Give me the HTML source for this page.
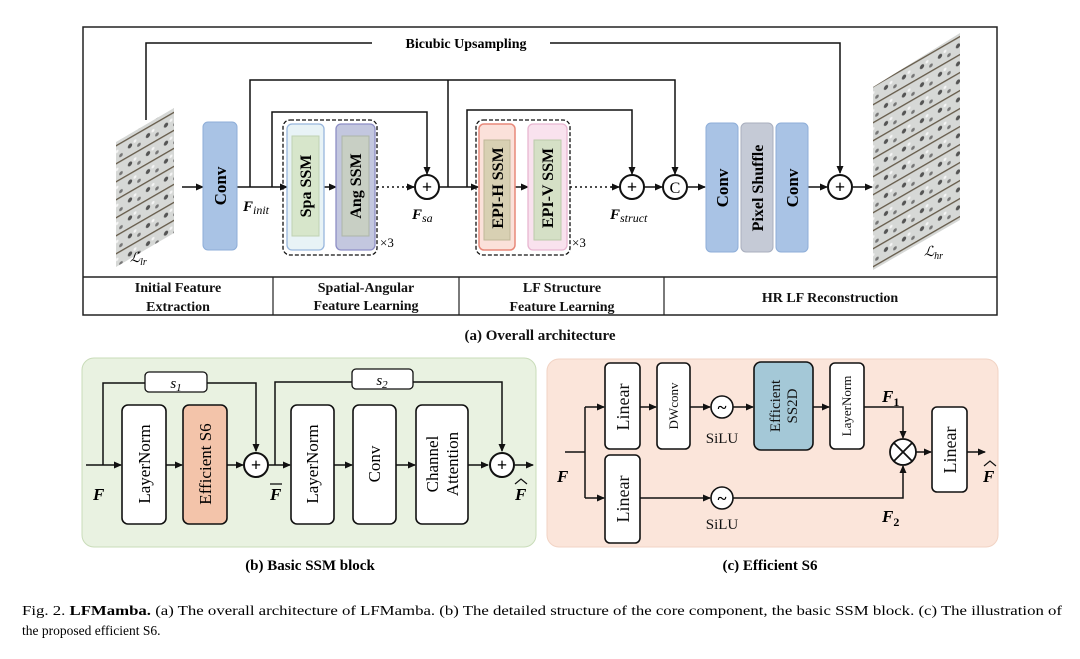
<!DOCTYPE html>
<html><head><meta charset="utf-8"><style>
html,body{margin:0;padding:0;background:#fff;}
svg{display:block;}
text{font-family:"Liberation Serif",serif;}
</style></head><body>
<svg width="1080" height="659" viewBox="0 0 1080 659" xmlns="http://www.w3.org/2000/svg">
<defs>
<marker id="a" markerWidth="8" markerHeight="8" refX="7" refY="4" orient="auto" markerUnits="userSpaceOnUse">
<path d="M0,0.5 L8,4 L0,7.5 z" fill="#111"/></marker>
<pattern id="lf" width="18" height="18" patternUnits="userSpaceOnUse" patternTransform="skewY(-30)">
<rect width="18" height="18" fill="#d6d8d6"/>
<circle cx="4" cy="5" r="2.2" fill="#555"/><circle cx="13" cy="9" r="1.8" fill="#777"/>
<rect x="0" y="14" width="18" height="1.6" fill="#6a6050"/>
<circle cx="9" cy="3" r="1.5" fill="#f4f4f4"/>
</pattern>
</defs>

<!-- (a) frame -->
<rect x="83" y="27" width="914" height="288" fill="#fff" stroke="#222" stroke-width="1.5"/>
<line x1="83" y1="277" x2="997" y2="277" stroke="#222" stroke-width="1.5"/>
<line x1="273" y1="277" x2="273" y2="315" stroke="#222" stroke-width="1.2"/>
<line x1="459" y1="277" x2="459" y2="315" stroke="#222" stroke-width="1.2"/>
<line x1="664" y1="277" x2="664" y2="315" stroke="#222" stroke-width="1.2"/>
<g font-weight="bold" font-size="14" text-anchor="middle" fill="#111">
<text x="178" y="292">Initial Feature</text><text x="178" y="311">Extraction</text>
<text x="366" y="292">Spatial-Angular</text><text x="366" y="310">Feature Learning</text>
<text x="562" y="292">LF Structure</text><text x="562" y="311">Feature Learning</text>
<text x="830" y="302">HR LF Reconstruction</text>
<text x="540" y="340" font-size="15">(a) Overall architecture</text>
</g>

<!-- images -->
<polygon points="116,142 174,108 174,233 116,267" fill="url(#lf)"/>
<polygon points="873,87 960,33 960,220 873,270" fill="url(#lf)"/>
<text x="130" y="262" font-size="14" font-style="italic">ℒ<tspan font-size="10" dy="3">lr</tspan></text>
<text x="924" y="256" font-size="14" font-style="italic">ℒ<tspan font-size="10" dy="3">hr</tspan></text>

<g stroke="#111" stroke-width="1.5" fill="none">
<polyline points="146,120 146,43 372,43"/>
<polyline points="550,43 840,43 840,173" marker-end="url(#a)"/>
<line x1="182" y1="187" x2="203" y2="187" marker-end="url(#a)"/>
<line x1="236" y1="187" x2="287" y2="187" marker-end="url(#a)"/>
<polyline points="250,187 250,80 675,80 675,174" marker-end="url(#a)"/>
<polyline points="272,187 272,112 427,112 427,174" marker-end="url(#a)"/>
<line x1="324" y1="187" x2="336" y2="187" marker-end="url(#a)"/>
<line x1="377" y1="187" x2="414" y2="187" stroke-dasharray="2,3"/>
<line x1="406" y1="187" x2="414" y2="187" marker-end="url(#a)"/>
<line x1="439" y1="187" x2="478" y2="187" marker-end="url(#a)"/>
<line x1="448" y1="80" x2="448" y2="187"/>
<polyline points="467,187 467,110 632,110 632,174" marker-end="url(#a)"/>
<line x1="515" y1="187" x2="528" y2="187" marker-end="url(#a)"/>
<line x1="570" y1="187" x2="619" y2="187" stroke-dasharray="2,3"/>
<line x1="611" y1="187" x2="619" y2="187" marker-end="url(#a)"/>
<line x1="644" y1="187" x2="662" y2="187" marker-end="url(#a)"/>
<line x1="688" y1="187" x2="705" y2="187" marker-end="url(#a)"/>
<line x1="808" y1="187" x2="827" y2="187" marker-end="url(#a)"/>
<line x1="853" y1="187" x2="872" y2="187" marker-end="url(#a)"/>
</g>
<rect x="372" y="34" width="178" height="18" fill="#fff"/>
<text x="466" y="48" font-size="14" font-weight="bold" text-anchor="middle">Bicubic Upsampling</text>

<rect x="203" y="122" width="34" height="128" rx="5" fill="#a9c3e5" stroke="#8eaed8"/>
<text transform="translate(226,186) rotate(-90)" font-size="17" font-weight="bold" text-anchor="middle">Conv</text>
<text x="243" y="211" font-size="15" font-weight="bold" font-style="italic">F<tspan font-size="12" font-weight="normal" dy="3">init</tspan></text>

<rect x="283" y="120" width="94" height="135" rx="7" fill="none" stroke="#111" stroke-width="1.3" stroke-dasharray="4,2"/>
<rect x="287" y="124" width="37" height="126" rx="5" fill="#e8f3f6" stroke="#98b6dd" stroke-width="1.3"/>
<rect x="292" y="136" width="27" height="100" fill="#d7e6cb" stroke="#bfd2b3"/>
<text transform="translate(311,186) rotate(-90)" font-size="16" font-weight="bold" text-anchor="middle">Spa SSM</text>
<rect x="336" y="124" width="39" height="126" rx="5" fill="#c3c7df" stroke="#8e8fc6" stroke-width="1.3"/>
<rect x="342" y="136" width="27" height="100" fill="#c8cfc4" stroke="#adb6a8"/>
<text transform="translate(361,186) rotate(-90)" font-size="16" font-weight="bold" text-anchor="middle">Ang SSM</text>
<text x="380" y="247" font-size="13">×3</text>
<circle cx="427" cy="187" r="12" fill="#fff" stroke="#111" stroke-width="2"/>
<text x="427" y="193" font-size="18" font-weight="bold" text-anchor="middle">+</text>
<text x="412" y="219" font-size="15" font-weight="bold" font-style="italic">F<tspan font-size="12" font-weight="normal" dy="3">sa</tspan></text>

<rect x="476" y="120" width="94" height="135" rx="7" fill="none" stroke="#111" stroke-width="1.3" stroke-dasharray="4,2"/>
<rect x="479" y="124" width="36" height="126" rx="5" fill="#fbe1da" stroke="#e8897a" stroke-width="1.5"/>
<rect x="484" y="140" width="26" height="100" fill="#d8d0b3" stroke="#bfb898"/>
<text transform="translate(503,188) rotate(-90)" font-size="16" font-weight="bold" text-anchor="middle">EPI-H SSM</text>
<rect x="528" y="124" width="39" height="126" rx="5" fill="#f9e2ee" stroke="#e8b6d1" stroke-width="1.3"/>
<rect x="534" y="140" width="27" height="100" fill="#d5e0c6" stroke="#bccaab"/>
<text transform="translate(553,188) rotate(-90)" font-size="16" font-weight="bold" text-anchor="middle">EPI-V SSM</text>
<text x="572" y="247" font-size="13">×3</text>
<circle cx="632" cy="187" r="12" fill="#fff" stroke="#111" stroke-width="2"/>
<text x="632" y="193" font-size="18" font-weight="bold" text-anchor="middle">+</text>
<text x="610" y="219" font-size="15" font-weight="bold" font-style="italic">F<tspan font-size="12" font-weight="normal" dy="3">struct</tspan></text>
<circle cx="675" cy="187" r="12" fill="#fff" stroke="#111" stroke-width="2"/>
<text x="675" y="193" font-size="16" text-anchor="middle" font-family="Liberation Sans">C</text>

<rect x="706" y="123" width="32" height="129" rx="5" fill="#a9c3e5" stroke="#8eaed8"/>
<text transform="translate(728,188) rotate(-90)" font-size="17" font-weight="bold" text-anchor="middle">Conv</text>
<rect x="741" y="123" width="32" height="129" rx="5" fill="#c5cad6" stroke="#a9afbe"/>
<text transform="translate(763,188) rotate(-90)" font-size="16" font-weight="bold" text-anchor="middle">Pixel Shuffle</text>
<rect x="776" y="123" width="32" height="129" rx="5" fill="#a9c3e5" stroke="#8eaed8"/>
<text transform="translate(798,188) rotate(-90)" font-size="17" font-weight="bold" text-anchor="middle">Conv</text>
<circle cx="840" cy="187" r="12" fill="#fff" stroke="#111" stroke-width="2"/>
<text x="840" y="193" font-size="18" font-weight="bold" text-anchor="middle">+</text>

<!-- (b) -->
<rect x="82" y="358" width="454" height="189" rx="12" fill="#e9f2e1" stroke="#c9dcb9"/>
<g stroke="#111" stroke-width="1.5" fill="none">
<line x1="86" y1="465" x2="121" y2="465" marker-end="url(#a)"/>
<polyline points="103,465 103,383 145,383"/><polyline points="207,383 256,383 256,451" marker-end="url(#a)"/>
<line x1="166" y1="465" x2="182" y2="465" marker-end="url(#a)"/>
<line x1="227" y1="465" x2="243" y2="465" marker-end="url(#a)"/>
<line x1="269" y1="465" x2="290" y2="465" marker-end="url(#a)"/>
<polyline points="275,465 275,382 352,382"/><polyline points="413,382 502,382 502,451" marker-end="url(#a)"/>
<line x1="334" y1="465" x2="352" y2="465" marker-end="url(#a)"/>
<line x1="396" y1="465" x2="415" y2="465" marker-end="url(#a)"/>
<line x1="468" y1="465" x2="488" y2="465" marker-end="url(#a)"/>
<line x1="515" y1="465" x2="533" y2="465" marker-end="url(#a)"/>
</g>
<rect x="145" y="372" width="62" height="20" rx="4" fill="#fff" stroke="#111" stroke-width="1.3"/>
<text x="176" y="388" font-size="15" font-style="italic" text-anchor="middle">s<tspan font-size="11" dy="3">1</tspan></text>
<rect x="352" y="369" width="61" height="20" rx="4" fill="#fff" stroke="#111" stroke-width="1.3"/>
<text x="382" y="385" font-size="15" font-style="italic" text-anchor="middle">s<tspan font-size="11" dy="3">2</tspan></text>
<g stroke="#111" stroke-width="1.6">
<rect x="122" y="405" width="44" height="119" rx="6" fill="#fff"/>
<rect x="183" y="405" width="44" height="119" rx="6" fill="#f3c4aa"/>
<rect x="291" y="405" width="43" height="119" rx="6" fill="#fff"/>
<rect x="353" y="405" width="43" height="119" rx="6" fill="#fff"/>
<rect x="416" y="405" width="52" height="119" rx="6" fill="#fff"/>
</g>
<g font-size="17" text-anchor="middle">
<text transform="translate(150,464) rotate(-90)">LayerNorm</text>
<text transform="translate(211,464) rotate(-90)">Efficient  S6</text>
<text transform="translate(318,464) rotate(-90)">LayerNorm</text>
<text transform="translate(380,464) rotate(-90)">Conv</text>
<text transform="translate(438,464) rotate(-90)">Channel</text>
<text transform="translate(458,464) rotate(-90)">Attention</text>
</g>
<circle cx="256" cy="465" r="12" fill="#fff" stroke="#111" stroke-width="2"/>
<text x="256" y="471" font-size="18" font-weight="bold" text-anchor="middle">+</text>
<circle cx="502" cy="465" r="12" fill="#fff" stroke="#111" stroke-width="2"/>
<text x="502" y="471" font-size="18" font-weight="bold" text-anchor="middle">+</text>
<g font-size="17" font-weight="bold" font-style="italic">
<text x="93" y="500">F</text>
<text x="270" y="500">F</text><line x1="270" y1="484" x2="282" y2="484" stroke="#111" stroke-width="1.3"/>
<text x="515" y="500">F</text>
</g>
<polyline points="515,484 521,479 527,484" fill="none" stroke="#111" stroke-width="1.2"/>
<text x="310" y="570" font-size="15" font-weight="bold" text-anchor="middle">(b) Basic SSM block</text>

<!-- (c) -->
<rect x="547" y="359" width="451" height="188" rx="12" fill="#fbe5da" stroke="#f1d3c4"/>
<g stroke="#111" stroke-width="1.5" fill="none">
<line x1="565" y1="452" x2="585" y2="452"/>
<polyline points="585,407 585,498"/>
<line x1="585" y1="407" x2="604" y2="407" marker-end="url(#a)"/>
<line x1="585" y1="498" x2="604" y2="498" marker-end="url(#a)"/>
<line x1="640" y1="407" x2="656" y2="407" marker-end="url(#a)"/>
<line x1="690" y1="407" x2="710" y2="407" marker-end="url(#a)"/>
<line x1="733" y1="407" x2="753" y2="407" marker-end="url(#a)"/>
<line x1="813" y1="407" x2="829" y2="407" marker-end="url(#a)"/>
<polyline points="864,407 903,407 903,438" marker-end="url(#a)"/>
<line x1="640" y1="498" x2="710" y2="498" marker-end="url(#a)"/>
<polyline points="733,498 903,498 903,466" marker-end="url(#a)"/>
<line x1="916" y1="452" x2="931" y2="452" marker-end="url(#a)"/>
<line x1="967" y1="452" x2="985" y2="452" marker-end="url(#a)"/>
</g>
<g stroke="#111" stroke-width="1.6">
<rect x="605" y="363" width="35" height="86" rx="5" fill="#fff"/>
<rect x="605" y="455" width="35" height="88" rx="5" fill="#fff"/>
<rect x="657" y="363" width="33" height="86" rx="5" fill="#fff"/>
<rect x="754" y="362" width="59" height="88" rx="7" fill="#a4c8d7"/>
<rect x="830" y="363" width="34" height="86" rx="5" fill="#fff"/>
<rect x="932" y="407" width="35" height="85" rx="5" fill="#fff"/>
</g>
<g text-anchor="middle" fill="#111">
<text transform="translate(629,407) rotate(-90)" font-size="18">Linear</text>
<text transform="translate(629,499) rotate(-90)" font-size="18">Linear</text>
<text transform="translate(678,406) rotate(-90)" font-size="13">DWconv</text>
<text transform="translate(780,406) rotate(-90)" font-size="15">Efficient</text>
<text transform="translate(797,406) rotate(-90)" font-size="15">SS2D</text>
<text transform="translate(851,406) rotate(-90)" font-size="13">LayerNorm</text>
<text transform="translate(956,450) rotate(-90)" font-size="18">Linear</text>
<text x="722" y="443" font-size="15">SiLU</text>
<text x="722" y="529" font-size="15">SiLU</text>
</g>
<circle cx="722" cy="407" r="11" fill="#fff" stroke="#111" stroke-width="1.6"/>
<text x="722" y="413" font-size="17" font-weight="bold" text-anchor="middle">~</text>
<circle cx="722" cy="498" r="11" fill="#fff" stroke="#111" stroke-width="1.6"/>
<text x="722" y="504" font-size="17" font-weight="bold" text-anchor="middle">~</text>
<circle cx="903" cy="452" r="13" fill="#fff" stroke="#111" stroke-width="1.8"/>
<line x1="894" y1="443" x2="912" y2="461" stroke="#111" stroke-width="1.8"/>
<line x1="912" y1="443" x2="894" y2="461" stroke="#111" stroke-width="1.8"/>
<g font-size="17" font-weight="bold" font-style="italic">
<text x="557" y="482">F</text>
<text x="882" y="402">F<tspan font-size="12" font-style="normal" dy="4">1</tspan></text>
<text x="882" y="522">F<tspan font-size="12" font-style="normal" dy="4">2</tspan></text>
<text x="983" y="482">F</text>
</g>
<polyline points="984,466 990,461 996,466" fill="none" stroke="#111" stroke-width="1.2"/>
<text x="770" y="570" font-size="15" font-weight="bold" text-anchor="middle">(c) Efficient  S6</text>

<!-- caption -->
<text x="22" y="615" font-size="13.5" textLength="1040" lengthAdjust="spacingAndGlyphs">Fig. 2.  <tspan font-weight="bold">LFMamba.</tspan> (a) The overall architecture of LFMamba. (b) The detailed structure of the core component, the basic SSM block. (c) The illustration of</text>
<text x="22" y="635" font-size="13.5">the proposed efficient S6.</text>
</svg>
</body></html>
